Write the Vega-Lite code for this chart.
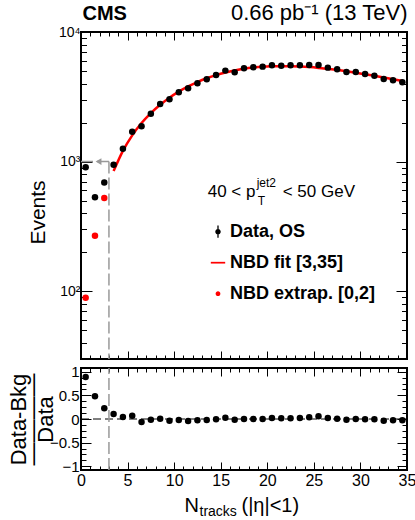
{
  "$schema": "https://vega.github.io/schema/vega-lite/v6.json",
  "padding": {"left": 6, "top": 0, "right": 0, "bottom": 0},
  "background": "white",
  "spacing": 2,
  "datasets": {
    "main": [
      {"n": 0.5, "events": 906, "ratio": 0.89},
      {"n": 1.5, "events": 531, "ratio": 0.48},
      {"n": 2.5, "events": 689, "ratio": 0.23},
      {"n": 3.5, "events": 944, "ratio": 0.105},
      {"n": 4.5, "events": 1259, "ratio": 0.04},
      {"n": 5.5, "events": 1702, "ratio": 0.07},
      {"n": 6.5, "events": 1875, "ratio": -0.063},
      {"n": 7.5, "events": 2344, "ratio": -0.014},
      {"n": 8.5, "events": 2787, "ratio": 0.007},
      {"n": 9.5, "events": 3027, "ratio": -0.035},
      {"n": 10.5, "events": 3428, "ratio": -0.02},
      {"n": 11.5, "events": 3681, "ratio": -0.042},
      {"n": 12.5, "events": 4017, "ratio": -0.028},
      {"n": 13.5, "events": 4313, "ratio": -0.02},
      {"n": 14.5, "events": 4658, "ratio": -0.007},
      {"n": 15.5, "events": 5035, "ratio": 0.028},
      {"n": 16.5, "events": 4887, "ratio": -0.014},
      {"n": 17.5, "events": 5250, "ratio": 0.0},
      {"n": 18.5, "events": 5345, "ratio": 0.0},
      {"n": 19.5, "events": 5405, "ratio": 0.0},
      {"n": 20.5, "events": 5530, "ratio": 0.02},
      {"n": 21.5, "events": 5500, "ratio": 0.014},
      {"n": 22.5, "events": 5530, "ratio": 0.014},
      {"n": 23.5, "events": 5530, "ratio": 0.02},
      {"n": 24.5, "events": 5570, "ratio": 0.035},
      {"n": 25.5, "events": 5570, "ratio": 0.056},
      {"n": 26.5, "events": 5310, "ratio": 0.02},
      {"n": 27.5, "events": 5155, "ratio": 0.007},
      {"n": 28.5, "events": 4920, "ratio": -0.014},
      {"n": 29.5, "events": 4920, "ratio": 0.0},
      {"n": 30.5, "events": 4745, "ratio": -0.007},
      {"n": 31.5, "events": 4603, "ratio": -0.007},
      {"n": 32.5, "events": 4345, "ratio": -0.035},
      {"n": 33.5, "events": 4245, "ratio": -0.028},
      {"n": 34.5, "events": 4093, "ratio": -0.028}
    ],
    "extrap": [
      {"n": 0.5, "events": 89},
      {"n": 1.5, "events": 268},
      {"n": 2.5, "events": 525}
    ],
    "fit": [
      {"n": 3.5, "fit": 845}, {"n": 4.5, "fit": 1210}, {"n": 5.5, "fit": 1595},
      {"n": 6.5, "fit": 1985}, {"n": 7.5, "fit": 2370}, {"n": 8.5, "fit": 2750},
      {"n": 9.5, "fit": 3115}, {"n": 10.5, "fit": 3465}, {"n": 11.5, "fit": 3800},
      {"n": 12.5, "fit": 4110}, {"n": 13.5, "fit": 4395}, {"n": 14.5, "fit": 4650},
      {"n": 15.5, "fit": 4870}, {"n": 16.5, "fit": 5055}, {"n": 17.5, "fit": 5205},
      {"n": 18.5, "fit": 5315}, {"n": 19.5, "fit": 5390}, {"n": 20.5, "fit": 5430},
      {"n": 21.5, "fit": 5445}, {"n": 22.5, "fit": 5440}, {"n": 23.5, "fit": 5410},
      {"n": 24.5, "fit": 5360}, {"n": 25.5, "fit": 5285}, {"n": 26.5, "fit": 5190},
      {"n": 27.5, "fit": 5090}, {"n": 28.5, "fit": 4975}, {"n": 29.5, "fit": 4850},
      {"n": 30.5, "fit": 4720}, {"n": 31.5, "fit": 4590}, {"n": 32.5, "fit": 4455},
      {"n": 33.5, "fit": 4320}, {"n": 34.5, "fit": 4190}
    ],
    "legend": [
      {"series": "Data, OS"},
      {"series": "NBD fit [3,35]"},
      {"series": "NBD extrap. [0,2]"}
    ]
  },
  "vconcat": [
    {
      "width": 326,
      "height": 327,
      "resolve": {"axis": {"x": "independent", "y": "independent"}},
      "layer": [
        {
          "data": {"values": [{}]},
          "mark": {"type": "rule", "color": "#999999", "strokeWidth": 1.5, "strokeDash": [12, 4]},
          "encoding": {
            "x": {"datum": 0, "type": "quantitative", "scale": {"domain": [0, 35], "nice": false, "zero": false},
              "axis": {"orient": "bottom", "values": [0,1,2,3,4,5,6,7,8,9,10,11,12,13,14,15,16,17,18,19,20,21,22,23,24,25,26,27,28,29,30,31,32,33,34,35],
                "labels": false, "ticks": true, "domain": false, "grid": false, "title": null, "tickColor": "black", "tickWidth": 1,
                "tickSize": {"condition": {"test": "datum.value % 5 === 0", "value": -8}, "value": -4}}},
            "x2": {"datum": 3},
            "y": {"datum": 1000, "type": "quantitative", "scale": {"type": "log", "domain": [30, 10000], "nice": false},
              "axis": {"orient": "left", "values": [40,50,60,70,80,90,100,200,300,400,500,600,700,800,900,1000,2000,3000,4000,5000,6000,7000,8000,9000,10000],
                "labels": false, "ticks": true, "domain": false, "grid": false, "title": null, "tickColor": "black", "tickWidth": 1,
                "tickSize": {"condition": {"test": "datum.value === 100 || datum.value === 1000 || datum.value === 10000", "value": -11}, "value": -5.5}}}
          }
        },
        {
          "data": {"values": [{}]},
          "mark": {"type": "rule", "color": "#999999", "strokeWidth": 1.5, "strokeDash": [12, 4]},
          "encoding": {
            "x": {"datum": 3, "type": "quantitative", "scale": {"domain": [0, 35], "nice": false, "zero": false},
              "axis": {"orient": "top", "values": [0,1,2,3,4,5,6,7,8,9,10,11,12,13,14,15,16,17,18,19,20,21,22,23,24,25,26,27,28,29,30,31,32,33,34,35],
                "labels": false, "ticks": true, "domain": false, "grid": false, "tickColor": "black", "tickWidth": 1,
                "tickSize": {"condition": {"test": "datum.value % 5 === 0", "value": -8}, "value": -4},
                "title": "CMS", "titleFont": "Liberation Sans", "titleFontSize": 20, "titleFontWeight": "bold", "titleColor": "black",
                "titleAngle": 0, "titleAlign": "left", "titleBaseline": "alphabetic", "titleX": 1, "titleY": -13}},
            "y": {"datum": 1000, "type": "quantitative", "scale": {"type": "log", "domain": [30, 10000], "nice": false},
              "axis": {"orient": "right", "values": [40,50,60,70,80,90,100,200,300,400,500,600,700,800,900,1000,2000,3000,4000,5000,6000,7000,8000,9000,10000],
                "labels": false, "ticks": true, "domain": false, "grid": false, "tickColor": "black", "tickWidth": 1,
                "tickSize": {"condition": {"test": "datum.value === 100 || datum.value === 1000 || datum.value === 10000", "value": -11}, "value": -5.5},
                "title": "0.66 pb⁻¹ (13 TeV)", "titleFont": "Liberation Sans", "titleFontSize": 22, "titleFontWeight": "normal", "titleColor": "black",
                "titleAngle": 0, "titleAlign": "right", "titleBaseline": "alphabetic", "titleX": 0, "titleY": -13}},
            "y2": {"datum": 30}
          }
        },
        {
          "data": {"values": [{}]},
          "mark": {"type": "point", "shape": "triangle-left", "filled": true, "color": "#999999", "size": 45, "opacity": 1},
          "encoding": {
            "x": {"datum": 1.88, "type": "quantitative", "scale": {"domain": [0, 35], "nice": false, "zero": false}, "axis": null},
            "y": {"datum": 1000, "type": "quantitative", "scale": {"type": "log", "domain": [30, 10000], "nice": false}, "axis": null}
          }
        },
        {
          "data": {"name": "fit"},
          "mark": {"type": "line", "color": "red", "strokeWidth": 2.5, "interpolate": "monotone"},
          "encoding": {
            "x": {"field": "n", "type": "quantitative", "scale": {"domain": [0, 35], "nice": false, "zero": false}, "axis": null},
            "y": {"field": "fit", "type": "quantitative", "scale": {"type": "log", "domain": [30, 10000], "nice": false}, "axis": null}
          }
        },
        {
          "data": {"name": "extrap"},
          "mark": {"type": "point", "shape": "circle", "filled": true, "color": "red", "size": 42, "opacity": 1},
          "encoding": {
            "x": {"field": "n", "type": "quantitative", "scale": {"domain": [0, 35], "nice": false, "zero": false}, "axis": null},
            "y": {"field": "events", "type": "quantitative", "scale": {"type": "log", "domain": [30, 10000], "nice": false}, "axis": null}
          }
        },
        {
          "data": {"name": "main"},
          "mark": {"type": "point", "shape": "circle", "filled": true, "color": "black", "size": 42, "opacity": 1},
          "encoding": {
            "x": {"field": "n", "type": "quantitative", "scale": {"domain": [0, 35], "nice": false, "zero": false}, "axis": null},
            "y": {"field": "events", "type": "quantitative", "scale": {"type": "log", "domain": [30, 10000], "nice": false},
              "axis": {"orient": "left", "values": [100, 1000, 10000], "ticks": false, "labels": true, "domain": false, "grid": false,
                "labelExpr": "datum.value == 100 ? '10²' : datum.value == 1000 ? '10³' : '10⁴'",
                "labelFont": "Liberation Sans", "labelFontSize": 14, "labelColor": "black", "labelPadding": 1,
                "title": "Events", "titleFont": "Liberation Sans", "titleFontSize": 21, "titleFontWeight": "normal", "titleColor": "black",
                "titleAngle": 270, "titleAlign": "center", "titleBaseline": "alphabetic", "titleX": -37, "titleY": 180}}
          }
        },
        {
          "data": {"name": "legend"},
          "mark": {"type": "point", "filled": true, "opacity": 0},
          "encoding": {
            "color": {"field": "series", "type": "nominal",
              "scale": {"domain": ["Data, OS", "NBD fit [3,35]", "NBD extrap. [0,2]"], "range": ["black", "red", "red"]},
              "legend": {"orient": "none", "legendX": 128, "legendY": 190.7, "title": null, "padding": 0,
                "symbolSize": 207, "symbolStrokeWidth": 0, "symbolOpacity": 1,
                "labelFont": "Liberation Sans", "labelFontSize": 18, "labelFontWeight": "bold", "labelColor": "black",
                "labelOffset": 3, "rowPadding": 13, "labelLimit": 300}},
            "shape": {"field": "series", "type": "nominal",
              "scale": {"domain": ["Data, OS", "NBD fit [3,35]", "NBD extrap. [0,2]"],
                "range": ["M-0.38,0A0.38,0.38 0 1,1 0.38,0A0.38,0.38 0 1,1 -0.38,0ZM-0.09,-0.85L0.09,-0.85L0.09,0.85L-0.09,0.85Z",
                          "M-1,-0.12L1,-0.12L1,0.12L-1,0.12Z",
                          "M-0.33,0A0.33,0.33 0 1,1 0.33,0A0.33,0.33 0 1,1 -0.33,0Z"]},
              "legend": {"orient": "none", "legendX": 128, "legendY": 190.7, "title": null, "padding": 0,
                "symbolSize": 207, "symbolStrokeWidth": 0, "symbolOpacity": 1,
                "labelFont": "Liberation Sans", "labelFontSize": 18, "labelFontWeight": "bold", "labelColor": "black",
                "labelOffset": 3, "rowPadding": 13, "labelLimit": 300}}
          }
        },
        {
          "data": {"values": [{}]},
          "mark": {"type": "text", "text": "40 < p", "align": "left", "baseline": "alphabetic", "font": "Liberation Sans", "fontSize": 17, "color": "black"},
          "encoding": {
            "x": {"datum": 13.6, "type": "quantitative", "scale": {"domain": [0, 35], "nice": false, "zero": false}, "axis": null},
            "y": {"datum": 535, "type": "quantitative", "scale": {"type": "log", "domain": [30, 10000], "nice": false}, "axis": null}
          }
        },
        {
          "data": {"values": [{}]},
          "mark": {"type": "text", "text": "jet2", "align": "left", "baseline": "alphabetic", "font": "Liberation Sans", "fontSize": 12, "color": "black", "dx": 49, "dy": -10},
          "encoding": {
            "x": {"datum": 13.6, "type": "quantitative", "scale": {"domain": [0, 35], "nice": false, "zero": false}, "axis": null},
            "y": {"datum": 535, "type": "quantitative", "scale": {"type": "log", "domain": [30, 10000], "nice": false}, "axis": null}
          }
        },
        {
          "data": {"values": [{}]},
          "mark": {"type": "text", "text": "T", "align": "left", "baseline": "alphabetic", "font": "Liberation Sans", "fontSize": 12, "color": "black", "dx": 50, "dy": 8},
          "encoding": {
            "x": {"datum": 13.6, "type": "quantitative", "scale": {"domain": [0, 35], "nice": false, "zero": false}, "axis": null},
            "y": {"datum": 535, "type": "quantitative", "scale": {"type": "log", "domain": [30, 10000], "nice": false}, "axis": null}
          }
        },
        {
          "data": {"values": [{}]},
          "mark": {"type": "text", "text": "< 50 GeV", "align": "left", "baseline": "alphabetic", "font": "Liberation Sans", "fontSize": 17, "color": "black", "dx": 75},
          "encoding": {
            "x": {"datum": 13.6, "type": "quantitative", "scale": {"domain": [0, 35], "nice": false, "zero": false}, "axis": null},
            "y": {"datum": 535, "type": "quantitative", "scale": {"type": "log", "domain": [30, 10000], "nice": false}, "axis": null}
          }
        }
      ]
    },
    {
      "width": 326,
      "height": 102,
      "resolve": {"axis": {"x": "independent", "y": "independent"}},
      "layer": [
        {
          "data": {"values": [{}]},
          "mark": {"type": "rule", "color": "black", "strokeWidth": 1, "strokeDash": [8, 4]},
          "encoding": {
            "x": {"datum": 0, "type": "quantitative", "scale": {"domain": [0, 35], "nice": false, "zero": false},
              "axis": {"orient": "top", "values": [0,1,2,3,4,5,6,7,8,9,10,11,12,13,14,15,16,17,18,19,20,21,22,23,24,25,26,27,28,29,30,31,32,33,34,35],
                "labels": false, "ticks": true, "domain": false, "grid": false, "tickColor": "black", "tickWidth": 1,
                "tickSize": {"condition": {"test": "datum.value % 5 === 0", "value": -8}, "value": -4},
                "title": "(|η|<1)", "titleFont": "Liberation Sans", "titleFontSize": 20, "titleFontWeight": "normal", "titleColor": "black",
                "titleAngle": 0, "titleAlign": "left", "titleBaseline": "alphabetic", "titleX": 160, "titleY": 143}},
            "x2": {"datum": 35},
            "y": {"datum": 0, "type": "quantitative", "scale": {"domain": [-1.08, 1.08], "nice": false, "zero": false},
              "axis": {"orient": "left", "values": [-1,-0.875,-0.75,-0.625,-0.5,-0.375,-0.25,-0.125,0,0.125,0.25,0.375,0.5,0.625,0.75,0.875,1],
                "labels": false, "ticks": true, "domain": false, "grid": false, "tickColor": "black", "tickWidth": 1,
                "tickSize": {"condition": {"test": "datum.value * 2 === round(datum.value * 2)", "value": -10}, "value": -5},
                "title": "Data", "titleFont": "Liberation Sans", "titleFontSize": 22, "titleFontWeight": "normal", "titleColor": "black",
                "titleAngle": 270, "titleAlign": "center", "titleBaseline": "alphabetic", "titleX": -29, "titleY": 51}}
          }
        },
        {
          "data": {"values": [{}]},
          "mark": {"type": "rule", "color": "#999999", "strokeWidth": 1.5, "strokeDash": [12, 4]},
          "encoding": {
            "x": {"datum": 3, "type": "quantitative", "scale": {"domain": [0, 35], "nice": false, "zero": false},
              "axis": {"orient": "bottom", "values": [0,1,2,3,4,5,6,7,8,9,10,11,12,13,14,15,16,17,18,19,20,21,22,23,24,25,26,27,28,29,30,31,32,33,34,35],
                "labels": false, "ticks": true, "domain": false, "grid": false, "tickColor": "black", "tickWidth": 1,
                "tickSize": {"condition": {"test": "datum.value % 5 === 0", "value": -8}, "value": -4},
                "title": "tracks", "titleFont": "Liberation Sans", "titleFontSize": 14, "titleFontWeight": "normal", "titleColor": "black",
                "titleAngle": 0, "titleAlign": "left", "titleBaseline": "alphabetic", "titleX": 118, "titleY": 45}},
            "y": {"datum": -1.08, "type": "quantitative", "scale": {"domain": [-1.08, 1.08], "nice": false, "zero": false},
              "axis": {"orient": "right", "values": [-1,-0.875,-0.75,-0.625,-0.5,-0.375,-0.25,-0.125,0,0.125,0.25,0.375,0.5,0.625,0.75,0.875,1],
                "labels": false, "ticks": true, "domain": false, "grid": false, "tickColor": "black", "tickWidth": 1,
                "tickSize": {"condition": {"test": "datum.value * 2 === round(datum.value * 2)", "value": -10}, "value": -5},
                "title": "————", "titleFont": "Liberation Sans", "titleFontSize": 23, "titleFontWeight": "normal", "titleColor": "black",
                "titleAngle": 270, "titleAlign": "center", "titleBaseline": "alphabetic", "titleX": -367.5, "titleY": 51}},
            "y2": {"datum": 1.08}
          }
        },
        {
          "data": {"name": "main"},
          "mark": {"type": "point", "shape": "circle", "filled": true, "color": "black", "size": 42, "opacity": 1},
          "encoding": {
            "x": {"field": "n", "type": "quantitative", "scale": {"domain": [0, 35], "nice": false, "zero": false},
              "axis": {"orient": "bottom", "values": [0, 5, 10, 15, 20, 25, 30, 35], "ticks": false, "labels": true, "domain": false, "grid": false,
                "labelFont": "Liberation Sans", "labelFontSize": 16, "labelColor": "black", "labelPadding": 2, "labelFlush": false,
                "title": "N", "titleFont": "Liberation Sans", "titleFontSize": 20, "titleFontWeight": "normal", "titleColor": "black",
                "titleAngle": 0, "titleAlign": "left", "titleBaseline": "alphabetic", "titleX": 103, "titleY": 41}},
            "y": {"field": "ratio", "type": "quantitative", "scale": {"domain": [-1.08, 1.08], "nice": false, "zero": false},
              "axis": {"orient": "left", "values": [-1, -0.5, 0, 0.5, 1], "ticks": false, "labels": true, "domain": false, "grid": false,
                "labelExpr": "datum.value == 1 ? '1' : datum.value == 0.5 ? '0.5' : datum.value == 0 ? '0' : datum.value == -0.5 ? '−0.5' : '−1'",
                "labelFont": "Liberation Sans", "labelFontSize": 15, "labelColor": "black", "labelPadding": 2, "labelFlush": false,
                "title": "Data-Bkg", "titleFont": "Liberation Sans", "titleFontSize": 22, "titleFontWeight": "normal", "titleColor": "black",
                "titleAngle": 270, "titleAlign": "center", "titleBaseline": "alphabetic", "titleX": -56, "titleY": 51}}
          }
        }
      ]
    }
  ],
  "config": {
    "font": "Liberation Sans",
    "view": {"stroke": "black", "strokeWidth": 2},
    "axis": {"domain": false, "grid": false}
  }
}
